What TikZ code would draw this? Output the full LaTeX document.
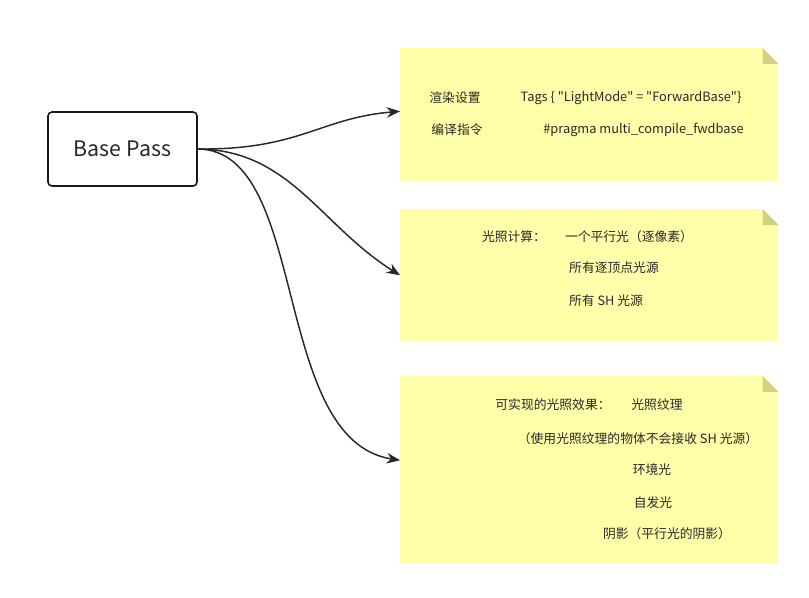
\documentclass[tikz,border=0pt]{standalone}
\usepackage{fontspec}
\setmainfont{Noto Sans CJK SC}
\usetikzlibrary{arrows.meta}

\definecolor{inkgray}{RGB}{40,40,40}
\definecolor{memofill}{RGB}{255,255,170}
\definecolor{memofold}{RGB}{212,208,130}

\begin{document}
\begin{tikzpicture}[x=0.75pt, y=-0.75pt,
    basebox/.style={draw=black!90, line width=1.2pt, rounded corners=3pt, fill=white,
        minimum width=111.75pt, minimum height=55.5pt, text=inkgray,
        font=\fontsize{16}{19}\selectfont},
    memo/.style={fill=memofill, inner sep=0pt, anchor=north west, minimum width=283.5pt},
    memotext/.style={inner sep=0pt, text=inkgray, font=\fontsize{9.6}{11}\selectfont},
    flow/.style={draw=inkgray, line width=1.1pt, -{Stealth[length=10pt, width=8pt]}}]
    \def\fold{16}

    \useasboundingbox (0,0) rectangle (809,597);

    \node[basebox] (base) at (122.5,149) {Base Pass};

    % sticky notes
    \node[memo, minimum height=99.75pt] (tags) at (400,48) {};
    \node[memo, minimum height=99pt] (light) at (400,209) {};
    \node[memo, minimum height=141pt] (effect) at (400,376) {};

    \foreach \m in {tags,light,effect} {
        \fill[white] (\m.north east) -- ++(-\fold,0) -- ++(\fold,\fold) -- cycle;
        \fill[memofold] ([xshift=-12pt]\m.north east) -- ++(\fold,\fold) -- ++(-\fold,0) -- cycle;
    }

    % note texts
    \node[memotext] (tagsA) at (455,98) {渲染设置};
    \node[memotext] (tagsB) at (631,98) {Tags \{ \textquotedbl LightMode\textquotedbl{} = \textquotedbl ForwardBase\textquotedbl\}};
    \node[memotext] (tagsC) at (457,130) {编译指令};
    \node[memotext] (tagsD) at (643.5,130) {\#pragma multi\_compile\_fwdbase};

    \node[memotext] (lightA) at (514,237) {光照计算：};
    \node[memotext] (lightB) at (629,237) {一个平行光（逐像素）};
    \node[memotext] (lightC) at (614,268) {所有逐顶点光源};
    \node[memotext] (lightD) at (606,301) {所有 SH 光源};

    \node[memotext] (effectA) at (553,405) {可实现的光照效果：};
    \node[memotext] (effectB) at (657,405) {光照纹理};
    \node[memotext] (effectC) at (638,439) {（使用光照纹理的物体不会接收 SH 光源）};
    \node[memotext] (effectD) at (652,470) {环境光};
    \node[memotext] (effectE) at (653,503) {自发光};
    \node[memotext] (effectF) at (667,534) {阴影（平行光的阴影）};

    % connectors
    \draw[flow] (base.east) .. controls (300,150) and (320,118) .. ([yshift=2.6pt]tags.west);
    \draw[flow] (base.east) .. controls (290,150) and (320,225) .. (light.west);
    \draw[flow] (base.east) .. controls (310,150) and (270,440) .. ([yshift=7.5pt]effect.west);
\end{tikzpicture}
\end{document}
